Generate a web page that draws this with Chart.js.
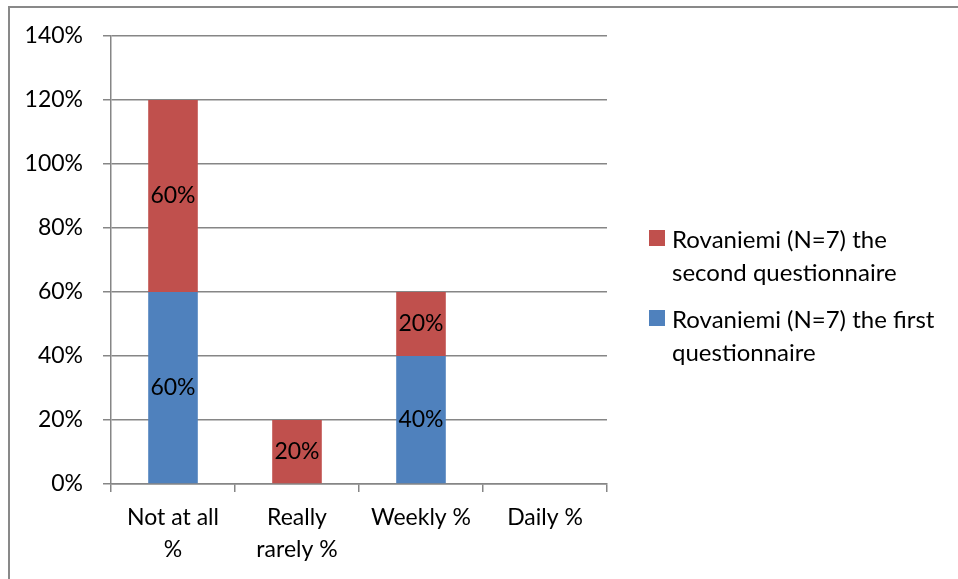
<!DOCTYPE html>
<html>
<head>
<meta charset="utf-8">
<script src="https://cdn.jsdelivr.net/npm/chart.js@4/dist/chart.umd.min.js"></script>
<style>
  html, body { margin: 0; padding: 0; background: #fff; }
  #wrap { position: relative; width: 958px; height: 579px; overflow: hidden; }
  #frame { position: absolute; left: 8px; top: 6px; width: 980px; height: 600px; border-left: 2px solid #898989; border-top: 2px solid #898989; box-sizing: border-box; }
  canvas { position: absolute; left: 0; top: 0; }
  .legend { position: absolute; left: 649px; font-family: Lato, "Open Sans", sans-serif; font-size: 24px; color: #000; line-height: 33px; }
  .item { position: absolute; left: 0; width: 310px; }
  .sw { position: absolute; left: 0; width: 16px; height: 16px; }
  .txt { position: absolute; left: 23px; white-space: nowrap; }
</style>
</head>
<body>
<div id="wrap">
  <div id="frame"></div>
  <canvas id="c" width="958" height="579"></canvas>
  <div class="legend" id="legend"></div>
</div>
<script>
const categories = [["Not at all", "%"], ["Really", "rarely %"], "Weekly %", "Daily %"];
const firstQuestionnaire = [60, 0, 40, 0];
const secondQuestionnaire = [60, 20, 20, 0];
const seriesNames = ["Rovaniemi (N=7) the first questionnaire", "Rovaniemi (N=7) the second questionnaire"];
const legendLines = [["Rovaniemi (N=7) the first", "questionnaire"], ["Rovaniemi (N=7) the", "second questionnaire"]];
const yTicks = [0, 20, 40, 60, 80, 100, 120, 140];

const BLUE = "#4F81BD", RED = "#C0504D", GRID = "#868686";
const FONT = "Lato, 'Open Sans', sans-serif";
const FS = 23;

const labelPlugin = {
  id: "barLabels",
  afterDatasetsDraw(chart) {
    const ctx = chart.ctx;
    ctx.save();
    ctx.font = FS + "px " + FONT;
    ctx.fillStyle = "#000";
    ctx.textAlign = "center";
    ctx.textBaseline = "middle";
    chart.data.datasets.forEach((ds, i) => {
      const meta = chart.getDatasetMeta(i);
      meta.data.forEach((bar, j) => {
        const v = ds.data[j];
        if (!v) return;
        const yc = (bar.y + bar.base) / 2;
        ctx.fillText(v + "%", bar.x, yc);
      });
    });
    ctx.restore();
  }
};

const chart = new Chart(document.getElementById("c"), {
  type: "bar",
  data: {
    labels: categories,
    datasets: [
      { label: seriesNames[0], data: firstQuestionnaire, backgroundColor: BLUE, stack: "s" },
      { label: seriesNames[1], data: secondQuestionnaire, backgroundColor: RED, stack: "s" }
    ]
  },
  options: {
    responsive: false,
    animation: false,
    devicePixelRatio: 1,
    layout: { padding: { left: 0, top: 36, right: 351, bottom: 0 } },
    categoryPercentage: 1.0,
    barPercentage: 0.4,
    plugins: { legend: { display: false }, tooltip: { enabled: false } },
    scales: {
      x: {
        stacked: true,
        grid: { drawOnChartArea: false, drawTicks: true, tickLength: 8, color: GRID, lineWidth: 1.5, offset: true },
        border: { color: GRID, width: 1.5 },
        ticks: { color: "#000", font: { family: FONT, size: FS, lineHeight: 32 / FS }, padding: 10, maxRotation: 0, autoSkip: false },
        afterFit(s) { s.height = 95; }
      },
      y: {
        stacked: true,
        min: 0, max: 140,
        afterBuildTicks(s) { s.ticks = yTicks.map(v => ({ value: v })); },
        grid: { drawTicks: true, tickLength: 8, color: GRID, lineWidth: 1.5 },
        border: { color: GRID, width: 1.5 },
        ticks: { color: "#000", font: { family: FONT, size: FS }, padding: 20, callback: v => v + "%" },
        afterFit(s) { s.width = 111; }
      }
    }
  },
  plugins: [labelPlugin]
});

// HTML legend (second series listed first, as in the reference)
const legend = document.getElementById("legend");
const order = [1, 0];
const colors = [BLUE, RED];
const tops = [222, 302];
order.forEach((di, k) => {
  const item = document.createElement("div");
  item.className = "item";
  item.style.top = tops[k] + "px";
  const sw = document.createElement("div");
  sw.className = "sw";
  sw.style.background = colors[di];
  sw.style.top = "8px";
  const txt = document.createElement("div");
  txt.className = "txt";
  txt.innerHTML = legendLines[di].join("<br>");
  item.appendChild(sw);
  item.appendChild(txt);
  legend.appendChild(item);
});
</script>
</body>
</html>
